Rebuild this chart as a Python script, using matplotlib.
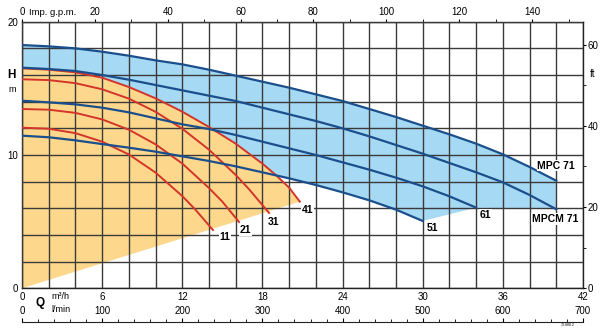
import numpy as np
import matplotlib
matplotlib.use("Agg")
import matplotlib.pyplot as plt

plt.rcParams['font.family'] = ['Liberation Sans', 'DejaVu Sans']

# flow (m3/h) and head (m)
q_mpc = [0, 2, 4, 6, 8, 10, 12, 14, 16, 18, 20, 22, 24, 26, 28, 30, 32, 34, 36, 38, 40]
h_mpc71 = [18.25, 18.15, 18.0, 17.75, 17.45, 17.1, 16.8, 16.4, 15.95, 15.5, 15.05,
           14.55, 14.05, 13.45, 12.85, 12.2, 11.55, 10.85, 10.05, 9.1, 8.07]
h_mpcm71 = [16.55, 16.45, 16.3, 16.0, 15.65, 15.25, 14.85, 14.45, 14.05, 13.55, 13.05,
            12.55, 12.0, 11.4, 10.75, 10.1, 9.4, 8.7, 7.95, 7.0, 5.93]
q_61 = [0, 2, 4, 6, 8, 10, 12, 14, 16, 18, 20, 22, 24, 26, 28, 30, 32, 34]
h_61 = [14.07, 13.95, 13.8, 13.55, 13.2, 12.75, 12.3, 11.95, 11.5, 11.0, 10.5,
        10.0, 9.45, 8.9, 8.3, 7.65, 6.9, 6.05]
q_51 = [0, 2, 4, 6, 8, 10, 12, 14, 16, 18, 20, 22, 24, 26, 28, 30]
h_51 = [11.45, 11.33, 11.1, 10.82, 10.55, 10.25, 9.9, 9.55, 9.15, 8.7, 8.25,
        7.75, 7.2, 6.6, 5.9, 5.05]

q_41 = [0, 2, 4, 6, 8, 10, 12, 14, 16, 18, 19, 20, 20.8]
h_41 = [16.5, 16.4, 16.2, 15.8, 15.1, 14.25, 13.25, 12.1, 10.85, 9.35, 8.5, 7.55, 6.5]
q_31 = [0, 2, 4, 6, 8, 10, 12, 14, 16, 17, 18.5]
h_31 = [15.68, 15.62, 15.39, 14.93, 14.23, 13.24, 11.97, 10.4, 8.5, 7.43, 5.65]
q_21 = [0, 2, 4, 6, 8, 10, 12, 14, 15, 16.25]
h_21 = [13.45, 13.4, 13.16, 12.67, 11.9, 10.8, 9.36, 7.52, 6.5, 4.97]
q_11 = [0, 2, 4, 6, 8, 10, 12, 13, 14.3]
h_11 = [12.05, 11.97, 11.64, 11.0, 10.04, 8.68, 6.92, 5.88, 4.37]

blue_fill = '#a6d9f4'
orange_fill = '#fdd88c'
blue_line = '#1b4f8c'
red_line = '#d4352a'

fig = plt.figure(figsize=(6.06, 3.31), dpi=100)
ax = fig.add_axes([22/606, 1-288.3/331, 561/606, 266.6/331])
ax.set_xlim(0, 42)
ax.set_ylim(0, 20)

# blue operating range (MPC 71 down to the 51/61/MPCM ends)
bx = q_mpc + [q_mpc[-1], q_61[-1]] + q_51[::-1]
by = h_mpc71 + [h_mpcm71[-1], h_61[-1]] + h_51[::-1]
ax.fill(bx, by, color=blue_fill, lw=0, zorder=1)
# orange range (curve 41 and the line back to the origin)
ax.fill(q_41 + [0], h_41 + [0], color=orange_fill, lw=0, zorder=1.2)

for q, h in [(q_41, h_41), (q_31, h_31), (q_21, h_21), (q_11, h_11)]:
    ax.plot(q, h, color=red_line, lw=1.4, zorder=3)
for q, h in [(q_mpc, h_mpc71), (q_mpc, h_mpcm71), (q_61, h_61), (q_51, h_51)]:
    ax.plot(q, h, color=blue_line, lw=1.6, zorder=3.2)

ax.set_axisbelow(False)
ax.set_xticks(np.arange(0, 43, 6))
ax.set_xticks(np.arange(0, 43, 2), minor=True)
ax.set_yticks([0, 10, 20])
ax.set_yticks(np.arange(0, 21, 2), minor=True)
ax.grid(which='both', color='#3a3a3a', lw=1.0)
ax.tick_params(which='both', length=0, labelsize=7, pad=3)
for s in ax.spines.values():
    s.set_color('#222222')
    s.set_linewidth(1.0)

# top axis: Imp. g.p.m.
gpm = 1000 / 4.54609 / 60
top = ax.secondary_xaxis('top', functions=(lambda x: x * gpm, lambda x: x / gpm))
top.set_xticks(np.arange(0, 141, 20))
top.set_xticks(np.arange(0, 151, 10), minor=True)
top.tick_params(which='both', direction='out', length=2.5, labelsize=7, pad=1)
top.spines['top'].set_visible(False)

# right axis: ft
right = ax.secondary_yaxis('right', functions=(lambda y: y / 0.3048, lambda y: y * 0.3048))
right.set_yticks([0, 20, 40, 60])
right.set_yticks([10, 30, 50], minor=True)
right.tick_params(which='both', direction='out', length=2.5, labelsize=7, pad=1)
right.spines['right'].set_visible(False)

# bottom extra axis: l/min
lmin = 1000 / 60
low = ax.secondary_xaxis(-0.125, functions=(lambda x: x * lmin, lambda x: x / lmin))
low.set_xticks(np.arange(0, 701, 100))
low.set_xticks(np.arange(0, 701, 20), minor=True)
low.tick_params(which='both', top=True, bottom=False, labeltop=True, labelbottom=False,
                direction='out', labelsize=7, pad=1)
low.tick_params(which='major', length=3)
low.tick_params(which='minor', length=2)
low.spines['bottom'].set_color('#222222')

# axis captions
ax.text(0.013, 1.035, 'Imp. g.p.m.', transform=ax.transAxes, fontsize=6.8, va='center')
ax.text(-0.018, 0.8, 'H', transform=ax.transAxes, fontsize=8.5, fontweight='bold',
        ha='center', va='center')
ax.text(-0.018, 0.745, 'm', transform=ax.transAxes, fontsize=6.5, ha='center', va='center')
ax.text(1.012, 0.805, 'ft', transform=ax.transAxes, fontsize=7, ha='left', va='center')
ax.text(0.032, -0.055, 'Q', transform=ax.transAxes, fontsize=8.5, fontweight='bold',
        ha='center', va='center')
ax.text(0.052, -0.03, 'm³/h', transform=ax.transAxes, fontsize=6.5, ha='left', va='center')
ax.text(0.052, -0.08, 'l/min', transform=ax.transAxes, fontsize=6.5, ha='left', va='center')
ax.text(0.985, -0.138, '73.888.2', transform=ax.transAxes, fontsize=2.5, ha='right', va='center')

# curve labels
box = dict(facecolor='white', edgecolor='none', pad=0.6)
labels = [('MPC 71', 40.0, 9.2), ('MPCM 71', 39.9, 5.2), ('61', 34.7, 5.5), ('51', 30.7, 4.55),
          ('41', 21.4, 5.87), ('31', 18.85, 5.0), ('21', 16.73, 4.35), ('11', 15.2, 3.83)]
for txt, x, y in labels:
    ax.text(x, y, txt, fontsize=7.5, fontweight='bold', ha='center', va='center',
            bbox=box, zorder=5)

fig.savefig('out.png', dpi=100)
